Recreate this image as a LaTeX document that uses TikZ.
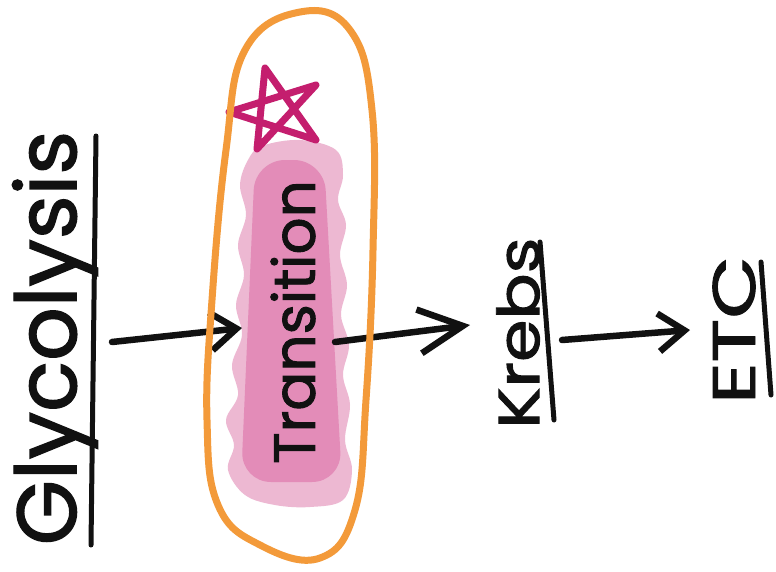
\documentclass[tikz,border=0pt]{standalone}
\usepackage{fontspec}
\setmainfont{Poppins}
\newfontfamily\hand{Poppins}[FakeBold=1.6]
\usetikzlibrary{arrows.meta}
\definecolor{ink}{HTML}{111111}
\definecolor{loop}{HTML}{F39A3A}
\definecolor{starpink}{HTML}{C41E6E}
\definecolor{blobLight}{HTML}{EDB8D2}
\definecolor{blobDark}{HTML}{E38CB8}
\tikzset{
  pen/.style={draw=ink, line width=6.5pt, line cap=round, line join=round},
  flow/.style={pen, -{Straight Barb[length=26pt, width=38pt, line width=6.5pt]}},
  word/.style={rotate=90, text=ink, inner sep=0pt},
}
\begin{document}
\begin{tikzpicture}[x=1pt, y=-1pt]
  \useasboundingbox (0,0) rectangle (776,571);
  \fill[white] (0,0) rectangle (776,571);

  % soft pink highlight behind the middle step
  \fill[blobLight]
    plot[smooth cycle, tension=0.6] coordinates {
      (262,146) (300,140) (336,150) (343,175) (338,200) (346,225) (340,255)
      (347,285) (341,315) (349,345) (343,375) (350,405) (345,440) (352,470)
      (343,500) (310,507) (275,505) (245,495) (228,470) (234,445) (226,420)
      (238,395) (232,365) (242,335) (236,305) (244,275) (238,245) (246,215)
      (240,185) (248,160)
    };
  \fill[blobDark, rounded corners=30pt]
    (255,160) -- (324,160) -- (342,482) -- (241,482) -- cycle;

  % labels
  \node[word, font=\hand\fontsize{84}{84}\selectfont] (gly) at (55,338) {Glycolysis};
  \node[word, font=\hand\fontsize{58}{58}\selectfont] (tra) at (293,322) {Transition};
  \node[word, font=\hand\fontsize{58}{58}\selectfont] (kre) at (518,333) {\scalebox{1.18}[1]{Krebs}};
  \node[word, font=\hand\fontsize{60}{60}\selectfont] (etc) at (734,330) {\scalebox{1.35}[1]{ETC}};

  % underlines beside each label
  \coordinate (g1) at (96,136);  \coordinate (g2) at (91,545);
  \coordinate (k1) at (540,242); \coordinate (k2) at (554,420);
  \coordinate (e1) at (761,262); \coordinate (e2) at (771,395);
  \draw[pen, line width=5pt] (g1) -- (g2);
  \draw[pen, line width=5pt] (k1) -- (k2);
  \draw[pen, line width=5pt] (e1) -- (e2);

  % arrows between the steps
  \coordinate (a1s) at (112,342); \coordinate (a1e) at (242,328);
  \coordinate (a2s) at (335,342); \coordinate (a2e) at (470,325);
  \coordinate (a3s) at (562,340); \coordinate (a3e) at (690,330);
  \draw[flow] (a1s) -- (a1e);
  \draw[flow, -{Straight Barb[length=44pt, width=44pt, line width=6.5pt]}] (a2s) -- (a2e);
  \draw[flow] (a3s) -- (a3e);

  % star marking the key step
  \draw[draw=starpink, line width=7pt, line cap=round, line join=round]
    (265,68) -- (316,140) -- (229,112) -- (316,85) -- (257,149) -- cycle;

  % orange loop round the middle step
  \draw[draw=loop, line width=7pt, line cap=round]
    plot[smooth cycle, tension=0.7] coordinates {
      (300,12) (350,30) (372,110) (373,250) (366,400) (355,510) (320,558)
      (260,545) (218,505) (207,420) (212,300) (226,150) (245,50)
    };
\end{tikzpicture}
\end{document}
